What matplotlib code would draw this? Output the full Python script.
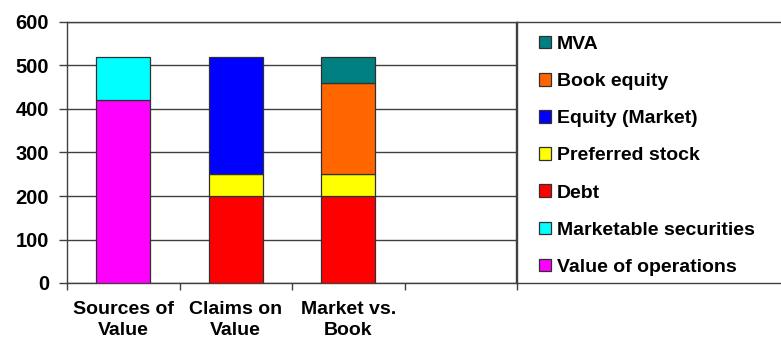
import matplotlib
matplotlib.use("Agg")
import matplotlib.pyplot as plt
from matplotlib.patches import Rectangle
import numpy as np

categories = ["Sources of\nValue", "Claims on\nValue", "Market vs.\nBook", ""]
series_names = ["Value of operations", "Marketable securities", "Debt",
                "Preferred stock", "Equity (Market)", "Book equity", "MVA"]
value_of_operations = [420, 0, 0, 0]
marketable_securities = [100, 0, 0, 0]
debt = [0, 200, 200, 0]
preferred_stock = [0, 50, 50, 0]
equity_market = [0, 270, 0, 0]
book_equity = [0, 0, 210, 0]
mva = [0, 0, 60, 0]
y_ticks = [0, 100, 200, 300, 400, 500, 600]

series = [value_of_operations, marketable_securities, debt, preferred_stock,
          equity_market, book_equity, mva]
colors = ["#FF00FF", "#00FFFF", "#FF0000", "#FFFF00", "#0000FF", "#FF6600", "#008080"]

plt.rcParams['font.family'] = ['Liberation Sans', 'DejaVu Sans']
plt.rcParams['font.weight'] = 'bold'

fig = plt.figure(figsize=(7.81, 3.40), dpi=100)
ax = fig.add_axes([67/781, 57/340, 450/781, 261/340])

x = np.arange(len(categories))
bottom = np.zeros(len(categories))
handles = []
for name, vals, c in zip(series_names, series, colors):
    vals = np.array(vals, dtype=float)
    idx = vals > 0
    h = ax.bar(x[idx], vals[idx], width=0.48, bottom=bottom[idx], color=c,
               edgecolor="#303030", linewidth=0.9, label=name, zorder=3)
    handles.append(h)
    bottom += vals

ax.set_xlim(-0.5, 3.5)
ax.set_ylim(0, 600)
ax.set_yticks(y_ticks)
ax.set_yticklabels([str(v) for v in y_ticks], fontsize=14.5, fontweight='bold')
ax.yaxis.grid(True, color="#404040", linewidth=1.0, zorder=1)
ax.tick_params(axis='y', length=6, width=1, color="#404040", pad=7)

ax.set_xticks(np.arange(-0.5, 4.0, 1.0))
ax.set_xticklabels([])
ax.tick_params(axis='x', which='major', length=5, width=1, color="#404040")
ax.set_xticks(x, minor=True)
ax.set_xticklabels(categories, minor=True, fontsize=14, fontweight='bold', linespacing=1.27)
ax.tick_params(axis='x', which='minor', length=0, pad=13)

for s in ax.spines.values():
    s.set_color("#404040")
    s.set_linewidth(1.0)

# legend box
fig.patches.append(Rectangle((516/781, 57/340), 300/781, 261/340, transform=fig.transFigure,
                             fill=False, edgecolor="#404040", linewidth=1.0))
leg = fig.legend(handles[::-1], series_names[::-1], loc='upper left',
                 bbox_to_anchor=(531/781, 1 - 28/340), frameon=False,
                 prop={'size': 14, 'weight': 'bold'}, labelspacing=1.03,
                 handlelength=0.62, handleheight=0.62, handletextpad=0.3,
                 borderaxespad=0)

fig.savefig("out.png", dpi=100)
